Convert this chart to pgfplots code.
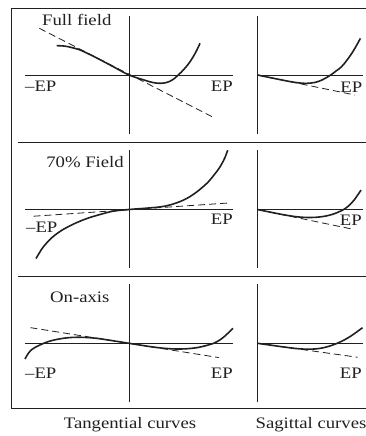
\documentclass[border=0pt]{standalone}
\usepackage{fontspec}
\setmainfont{Liberation Serif}[FakeStretch=1.17]
\usepackage{pgfplots}
\pgfplotsset{compat=1.18}

\definecolor{ink}{HTML}{231F20}

\pgfplotsset{
  fan/.style={
    scale only axis, clip=false,
    axis lines=middle,
    axis line style={ink, line width=0.8pt, -},
    xtick=\empty, ytick=\empty,
    ymin=-1, ymax=1, height=118pt,
    anchor=south west,
  },
  tang/.style={fan, xmin=-1, xmax=1, width=208pt},
  sag/.style={fan, xmin=0, xmax=1, width=105pt},
  ray/.style={ink, line width=1.6pt, smooth, tension=0.6},
  ref/.style={ink, line width=0.8pt, dash pattern=on 7pt off 4pt},
}

\begin{document}
\begin{tikzpicture}[x=1pt, y=1pt, font=\fontsize{16}{19}\selectfont]
\useasboundingbox (0,0) rectangle (366,436);

% outer frame and row separators
\draw[ink, line width=0.9pt] (370,427.7) -- (11,427.7) -- (11,27.5) -- (370,27.5);
\draw[ink, line width=0.9pt] (18.3,293.5) -- (370,293.5);
\draw[ink, line width=0.9pt] (18.3,159.3) -- (370,159.3);

% ---------- Full field ----------
\begin{axis}[tang, at={(25pt,302pt)}]
  \addplot[ref] coordinates {(-0.863,0.792) (0.81,-0.717)};
  \addplot[ray] coordinates {
    (-0.695,0.497) (-0.62,0.49) (-0.55,0.465) (-0.471,0.424) (-0.38,0.35)
    (-0.279,0.26) (-0.14,0.13) (0,0) (0.154,-0.09) (0.23,-0.128)
    (0.298,-0.141) (0.36,-0.128) (0.42,-0.08) (0.474,0) (0.53,0.1)
    (0.587,0.225) (0.64,0.38) (0.683,0.537)};
\end{axis}
\begin{axis}[sag, at={(257.5pt,302pt)}]
  \addplot[ref] coordinates {(0,0) (0.928,-0.339)};
  \addplot[ray] coordinates {
    (0,0) (0.1,-0.037) (0.2,-0.073) (0.3,-0.108) (0.4,-0.135) (0.47,-0.141)
    (0.55,-0.125) (0.62,-0.08) (0.697,0) (0.75,0.07) (0.8,0.14)
    (0.86,0.27) (0.92,0.43) (0.98,0.62)};
\end{axis}

% ---------- 70% field ----------
\begin{axis}[tang, at={(25pt,167.5pt)}]
  \addplot[ref] coordinates {(-0.918,-0.114) (0.97,0.112)};
  \addplot[ray] coordinates {
    (-0.894,-0.831) (-0.86,-0.73) (-0.824,-0.634) (-0.75,-0.49) (-0.67,-0.38)
    (-0.599,-0.305) (-0.5,-0.22) (-0.4,-0.15) (-0.279,-0.085) (-0.15,-0.028)
    (0,0) (0.15,0.02) (0.298,0.044) (0.4,0.08) (0.522,0.158) (0.63,0.27)
    (0.747,0.441) (0.82,0.59) (0.875,0.722) (0.92,0.87) (0.949,1.005)};
\end{axis}
\begin{axis}[sag, at={(257.5pt,167.5pt)}]
  \addplot[ref] coordinates {(0,0) (0.921,-0.339)};
  \addplot[ray] coordinates {
    (0,0) (0.1,-0.037) (0.2,-0.073) (0.3,-0.105) (0.4,-0.128) (0.5,-0.136)
    (0.6,-0.125) (0.7,-0.09) (0.8,-0.02) (0.86,0.05) (0.92,0.16) (0.986,0.33)};
\end{axis}

% ---------- On-axis ----------
\begin{axis}[tang, at={(25pt,33.7pt)}]
  \addplot[ref] coordinates {(-0.947,0.265) (0.863,-0.242)};
  \addplot[ray] coordinates {
    (-1.0,-0.266) (-0.94,-0.113) (-0.82,0.0) (-0.72,0.056) (-0.6,0.092)
    (-0.5,0.102) (-0.4,0.098) (-0.3,0.082) (-0.2,0.056) (-0.1,0.028) (0,0)
    (0.1,-0.028) (0.2,-0.055) (0.3,-0.078) (0.4,-0.093) (0.46,-0.097)
    (0.55,-0.093) (0.65,-0.075) (0.75,-0.035) (0.815,0) (0.9,0.09) (1.0,0.254)};
\end{axis}
\begin{axis}[sag, at={(257.5pt,33.7pt)}]
  \addplot[ref] coordinates {(0,0) (0.954,-0.237)};
  \addplot[ray] coordinates {
    (0,0) (0.1,-0.025) (0.2,-0.05) (0.3,-0.074) (0.4,-0.094) (0.5,-0.1)
    (0.6,-0.085) (0.7,-0.04) (0.76,0) (0.85,0.08) (0.92,0.16) (1.0,0.264)};
\end{axis}

% labels
\begin{scope}[every node/.style={inner sep=0pt, text=ink}]
  \node[anchor=base west] at (42,410) {Full field};
  \node[anchor=base east] at (124,268.7) {70\% Field};
  \node[anchor=base west] at (50,133.3) {On-axis};

  \node[anchor=base west] at (25,344) {–EP};
  \node[anchor=base east] at (233,344) {EP};
  \node[anchor=base east] at (362.5,343.5) {EP};

  \node[anchor=base west] at (26,203.3) {–EP};
  \node[anchor=base east] at (233,211) {EP};
  \node[anchor=base east] at (362,210) {EP};

  \node[anchor=base west] at (25,57.7) {–EP};
  \node[anchor=base east] at (233,57.7) {EP};
  \node[anchor=base east] at (362,57.7) {EP};

  \node[anchor=base] at (130,8) {Tangential curves};
  \node[anchor=base] at (311,8) {Sagittal curves};
\end{scope}
\end{tikzpicture}
\end{document}
